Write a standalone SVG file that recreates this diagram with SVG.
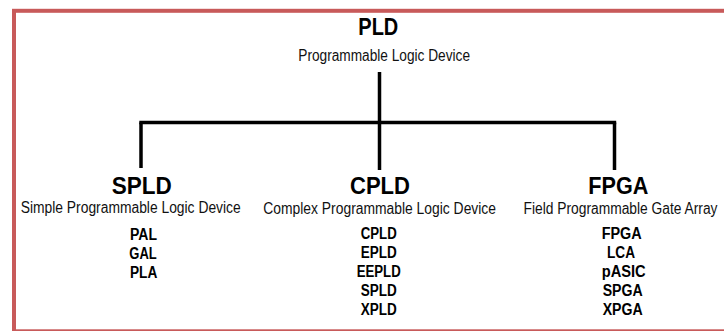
<svg xmlns="http://www.w3.org/2000/svg" width="724" height="331" viewBox="0 0 724 331">
  <style>
    text { font-family: "Liberation Sans", Arial, sans-serif; fill: #000; }
    .head { font-size: 23px; font-weight: bold; }
    .sub { font-size: 16px; fill: #111; }
    .item { font-size: 16px; font-weight: bold; }
    .wire { stroke: #000; stroke-width: 3.5; fill: none; stroke-linecap: butt; }
    .frame { fill: #fff; stroke: #c85a5a; stroke-width: 4; }
  </style>

  <!-- outer frame -->
  <rect class="frame" x="14" y="10.8" width="720" height="320.5"/>

  <!-- tree connectors -->
  <g id="connectors">
    <line class="wire" x1="379.5" y1="72" x2="379.5" y2="170"/>
    <line class="wire" x1="139.3" y1="122.5" x2="616.2" y2="122.5"/>
    <line class="wire" x1="141" y1="122.5" x2="141" y2="168"/>
    <line class="wire" x1="614.5" y1="122.5" x2="614.5" y2="170"/>
  </g>

  <!-- root -->
  <g id="node-pld">
    <text class="head" x="358.3" y="35" textLength="40" lengthAdjust="spacingAndGlyphs">PLD</text>
    <text class="sub" x="298.3" y="61" textLength="171.7" lengthAdjust="spacingAndGlyphs">Programmable Logic Device</text>
  </g>

  <!-- simple PLD branch -->
  <g id="node-spld">
    <text class="head" x="111.7" y="193.5" textLength="60" lengthAdjust="spacingAndGlyphs">SPLD</text>
    <text class="sub" x="20.7" y="213" textLength="220" lengthAdjust="spacingAndGlyphs">Simple Programmable Logic Device</text>
    <text class="item" x="130" y="240" textLength="27" lengthAdjust="spacingAndGlyphs">PAL</text>
    <text class="item" x="129.3" y="259" textLength="27.4" lengthAdjust="spacingAndGlyphs">GAL</text>
    <text class="item" x="130" y="277.5" textLength="27.3" lengthAdjust="spacingAndGlyphs">PLA</text>
  </g>

  <!-- complex PLD branch -->
  <g id="node-cpld">
    <text class="head" x="350" y="193.5" textLength="60" lengthAdjust="spacingAndGlyphs">CPLD</text>
    <text class="sub" x="263.3" y="213.5" textLength="232.7" lengthAdjust="spacingAndGlyphs">Complex Programmable Logic Device</text>
    <text class="item" x="360.7" y="238.5" textLength="36" lengthAdjust="spacingAndGlyphs">CPLD</text>
    <text class="item" x="360.7" y="257.7" textLength="36" lengthAdjust="spacingAndGlyphs">EPLD</text>
    <text class="item" x="356.7" y="276.7" textLength="44" lengthAdjust="spacingAndGlyphs">EEPLD</text>
    <text class="item" x="360.7" y="296" textLength="36" lengthAdjust="spacingAndGlyphs">SPLD</text>
    <text class="item" x="360.7" y="315" textLength="36" lengthAdjust="spacingAndGlyphs">XPLD</text>
  </g>

  <!-- FPGA branch -->
  <g id="node-fpga">
    <text class="head" x="588.3" y="193.5" textLength="60" lengthAdjust="spacingAndGlyphs">FPGA</text>
    <text class="sub" x="523.5" y="213.5" textLength="194" lengthAdjust="spacingAndGlyphs">Field Programmable Gate Array</text>
    <text class="item" x="601.7" y="238.5" textLength="40" lengthAdjust="spacingAndGlyphs">FPGA</text>
    <text class="item" x="607" y="257.7" textLength="28" lengthAdjust="spacingAndGlyphs">LCA</text>
    <text class="item" x="601.7" y="276.7" textLength="44" lengthAdjust="spacingAndGlyphs">pASIC</text>
    <text class="item" x="602.7" y="296" textLength="40" lengthAdjust="spacingAndGlyphs">SPGA</text>
    <text class="item" x="602.7" y="315" textLength="40" lengthAdjust="spacingAndGlyphs">XPGA</text>
  </g>
</svg>
